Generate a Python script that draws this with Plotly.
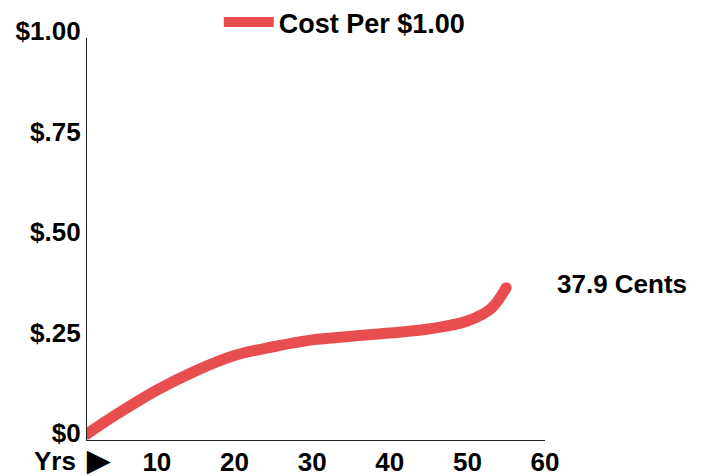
import plotly.graph_objects as go

years = [1, 5, 10, 15, 20, 25, 30, 35, 40, 45, 50, 53, 55]
cost = [0.015, 0.066, 0.124, 0.172, 0.210, 0.232, 0.249, 0.258, 0.266, 0.276, 0.296, 0.326, 0.379]
y_ticks = [0, 0.25, 0.5, 0.75, 1.0]
y_labels = ["$0", "$.25", "$.50", "$.75", "$1.00"]
x_ticks = [10, 20, 30, 40, 50, 60]
x_labels = ["10", "20", "30", "40", "50", "60"]
series_name = "Cost Per $1.00"
end_label = "37.9 Cents"

RED = "#E84E4F"
FONT = "Liberation Sans, Arial, sans-serif"

# page body has an 8px margin, so the figure is drawn 8px right/down
W, H = 701, 468
L, T = 79.3, 30
PW, PH = 457.7, 402

fig = go.Figure()
fig.add_trace(go.Scatter(
    x=years, y=cost, mode="lines", name=series_name,
    line=dict(color=RED, width=11, shape="spline", smoothing=1.0),
    showlegend=True,
))
# round caps at both ends
fig.add_trace(go.Scatter(
    x=[years[0], years[-1]], y=[cost[0], cost[-1]], mode="markers",
    marker=dict(color=RED, size=11), showlegend=False, hoverinfo="skip",
))

fig.update_layout(
    width=W, height=H,
    margin=dict(l=L, r=W - L - PW, t=T, b=H - T - PH, autoexpand=False),
    paper_bgcolor="white", plot_bgcolor="white",
    font=dict(family=FONT, size=26, color="black", weight="bold"),
    showlegend=True,
    legend=dict(
        orientation="h", x=(211 - L) / PW, xanchor="left",
        y=1 + (T - 14.5) / PH, yanchor="middle",
        font=dict(family=FONT, size=27, color="black", weight="bold"),
        itemwidth=50, bgcolor="rgba(0,0,0,0)",
    ),
    xaxis=dict(
        range=[1, 60], tickvals=x_ticks, ticktext=x_labels,
        showgrid=False, zeroline=False, showline=True, linecolor="#222", linewidth=1.2,
        ticks="", ticklabelstandoff=-1,
        tickfont=dict(family=FONT, size=26, color="black", weight="bold"),
    ),
    yaxis=dict(
        range=[0, 1], tickvals=y_ticks, ticktext=y_labels,
        showgrid=False, zeroline=False, showline=True, linecolor="#222", linewidth=1.2,
        ticks="", ticklabelshift=-7,
        tickfont=dict(family=FONT, size=26, color="black", weight="bold"),
    ),
)

fig.add_annotation(
    text="Yrs", xref="paper", yref="paper",
    x=(78 - 87.3) / PW, y=-(461 - 440) / PH,
    xanchor="right", yanchor="middle", showarrow=False,
    font=dict(family=FONT, size=26, color="black", weight="bold"),
)
fig.add_annotation(
    text="►", xref="paper", yref="paper",
    x=(99 - 87.3) / PW, y=-(460 - 440) / PH,
    xanchor="center", yanchor="middle", showarrow=False,
    font=dict(family=FONT, size=40, color="black", weight="bold"),
)
fig.add_annotation(
    text=end_label, xref="paper", yref="y", x=(555 - 87.3) / PW, y=0.388,
    xanchor="left", yanchor="middle", showarrow=False,
    font=dict(family=FONT, size=26, color="black", weight="bold"),
)

fig.write_html("out.html")
